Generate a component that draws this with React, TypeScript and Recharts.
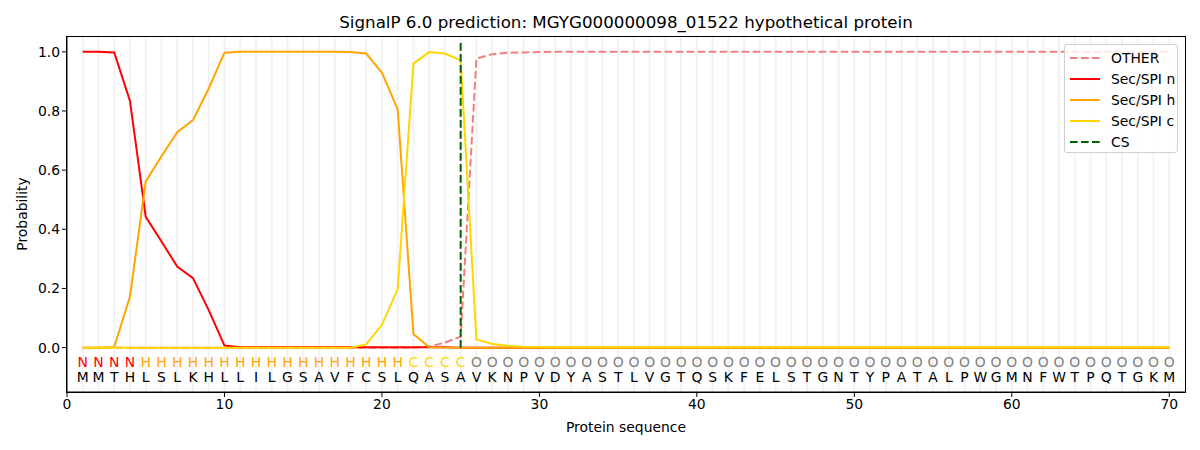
import React from 'react';
import {
  ComposedChart,
  Line,
  Scatter,
  XAxis,
  YAxis,
  ReferenceLine,
} from 'recharts';

const TITLE = 'SignalP 6.0 prediction: MGYG000000098_01522 hypothetical protein';

const sequence = 'MMTHLSLKHLLILGSAVFCSLQASAVKNPVDYASTLVGTQSKFELSTGNTYPATALPWGMNFWTPQTGKM'.split('');
const regions = 'NNNNHHHHHHHHHHHHHHHHHCCCCOOOOOOOOOOOOOOOOOOOOOOOOOOOOOOOOOOOOOOOOOOOOO'.split('');

const otherProb = [
  0, 0, 0, 0, 0, 0, 0, 0, 0, 0,
  0, 0, 0, 0, 0, 0, 0, 0, 0, 0,
  0, 0, 0.003, 0.017, 0.037, 0.977, 0.992, 0.997, 0.998, 0.999,
  1, 1, 1, 1, 1, 1, 1, 1, 1, 1,
  1, 1, 1, 1, 1, 1, 1, 1, 1, 1,
  1, 1, 1, 1, 1, 1, 1, 1, 1, 1,
  1, 1, 1, 1, 1, 1, 1, 1, 1, 1,
];
const secN = [
  1, 1, 0.998, 0.834, 0.442, 0.359, 0.274, 0.235, 0.127, 0.007,
  0.001, 0.001, 0.001, 0.001, 0.001, 0.001, 0.001, 0.001, 0.001, 0.001,
  0.001, 0.001, 0.001, 0.001, 0, 0, 0, 0, 0, 0,
  0, 0, 0, 0, 0, 0, 0, 0, 0, 0,
  0, 0, 0, 0, 0, 0, 0, 0, 0, 0,
  0, 0, 0, 0, 0, 0, 0, 0, 0, 0,
  0, 0, 0, 0, 0, 0, 0, 0, 0, 0,
];
const secH = [
  0, 0, 0.002, 0.173, 0.562, 0.647, 0.728, 0.769, 0.876, 0.997,
  1, 1, 1, 1, 1, 1, 1, 0.999, 0.994, 0.93,
  0.805, 0.046, 0.001, 0, 0, 0, 0, 0, 0, 0,
  0, 0, 0, 0, 0, 0, 0, 0, 0, 0,
  0, 0, 0, 0, 0, 0, 0, 0, 0, 0,
  0, 0, 0, 0, 0, 0, 0, 0, 0, 0,
  0, 0, 0, 0, 0, 0, 0, 0, 0, 0,
];
const secC = [
  0, 0, 0, 0, 0, 0, 0, 0, 0, 0,
  0, 0, 0, 0, 0, 0, 0, 0, 0.011, 0.077,
  0.198, 0.96, 0.999, 0.994, 0.971, 0.028, 0.012, 0.006, 0.003, 0.002,
  0.001, 0.001, 0.001, 0.001, 0.001, 0.001, 0.001, 0.001, 0.001, 0.001,
  0.001, 0.001, 0.001, 0.001, 0.001, 0.001, 0.001, 0.001, 0.001, 0.001,
  0.001, 0.001, 0.001, 0.001, 0.001, 0.001, 0.001, 0.001, 0.001, 0.001,
  0.001, 0.001, 0.001, 0.001, 0.001, 0.001, 0.001, 0.001, 0.001, 0.001,
];
const cleavageSite = 25;

const xTicks = [0, 10, 20, 30, 40, 50, 60, 70];
const yTicks = [0, 0.2, 0.4, 0.6, 0.8, 1.0];

const REGION_COLORS: Record<string, string> = {
  N: '#ff0000',
  H: '#ffa500',
  C: '#ffd700',
  O: '#808080',
};

const legendItems = [
  { label: 'OTHER', color: '#f08080', dashed: true },
  { label: 'Sec/SPI n', color: '#ff0000', dashed: false },
  { label: 'Sec/SPI h', color: '#ffa500', dashed: false },
  { label: 'Sec/SPI c', color: '#ffd700', dashed: false },
  { label: 'CS', color: '#006400', dashed: true },
];

const FONT = '"DejaVu Sans", sans-serif';

const rows = sequence.map((aa, i) => ({
  pos: i + 1,
  other: otherProb[i],
  n: secN[i],
  h: secH[i],
  c: secC[i],
}));
const regionRows = regions.map((r, i) => ({ pos: i + 1, y: -0.047, text: r }));
const residueRows = sequence.map((aa, i) => ({ pos: i + 1, y: -0.1, text: aa }));

const LetterShape = (color?: string) => (props: any) => {
  const { cx, cy, payload } = props;
  return (
    <text
      x={cx}
      y={cy}
      textAnchor="middle"
      dominantBaseline="central"
      fontSize={13.9}
      fontFamily={FONT}
      fill={color ?? REGION_COLORS[payload.text]}
    >
      {payload.text}
    </text>
  );
};

const LegendBox = () => (
  <div
    style={{
      position: 'absolute',
      left: 1064,
      top: 44,
      width: 114,
      height: 109,
      boxSizing: 'border-box',
      background: 'rgba(255,255,255,0.8)',
      border: '1px solid #d0d0d0',
      borderRadius: 3,
      padding: '2px 0 0 4px',
      fontFamily: FONT,
      fontSize: 13.9,
    }}
  >
    {legendItems.map((it) => (
      <div key={it.label} style={{ display: 'flex', alignItems: 'center', height: 21 }}>
        <svg width={42} height={10}>
          <line
            x1={1}
            x2={31}
            y1={5}
            y2={5}
            stroke={it.color}
            strokeWidth={2}
            strokeDasharray={it.dashed ? '7.7 3.3' : undefined}
          />
        </svg>
        <span style={{ color: '#000' }}>{it.label}</span>
      </div>
    ))}
  </div>
);

export default function App() {
  return (
    <div style={{ position: 'absolute', left: 0, top: 0, width: 1200, height: 450, background: '#fff' }}>
      <div
        style={{
          position: 'absolute',
          top: 12,
          left: 67,
          width: 1118,
          textAlign: 'center',
          fontFamily: FONT,
          fontSize: 16.7,
        }}
      >
        {TITLE}
      </div>
      <div
        style={{
          position: 'absolute',
          left: 67,
          top: 419,
          width: 1118,
          textAlign: 'center',
          fontFamily: FONT,
          fontSize: 13.9,
        }}
      >
        Protein sequence
      </div>
      <div
        style={{
          position: 'absolute',
          left: 22,
          top: 214,
          transform: 'translate(-50%, -50%) rotate(-90deg)',
          fontFamily: FONT,
          fontSize: 13.9,
          whiteSpace: 'nowrap',
        }}
      >
        Probability
      </div>
      <ComposedChart
        width={1200}
        height={450}
        data={rows}
        margin={{ top: 37, right: 15, left: 0, bottom: 0 }}
      >
        <XAxis
          dataKey="pos"
          type="number"
          domain={[0, 71]}
          ticks={xTicks}
          height={58}
          tickSize={5}
          stroke="#000"
          tick={{ fill: '#000', fontSize: 13.9, fontFamily: FONT }}
          allowDataOverflow
        />
        <YAxis
          type="number"
          domain={[-0.15, 1.05]}
          ticks={yTicks}
          width={67}
          tickSize={5}
          stroke="#000"
          tickFormatter={(v: number) => v.toFixed(1)}
          tick={{ fill: '#000', fontSize: 13.9, fontFamily: FONT }}
          allowDataOverflow
        />
        {rows.map((r) => (
          <ReferenceLine key={`g${r.pos}`} x={r.pos} stroke="#f2f2f2" strokeWidth={2} />
        ))}
        <Line dataKey="other" stroke="#f08080" strokeWidth={2} strokeDasharray="7.7 3.3" dot={false} isAnimationActive={false} />
        <Line dataKey="n" stroke="#ff0000" strokeWidth={2} dot={false} isAnimationActive={false} />
        <Line dataKey="h" stroke="#ffa500" strokeWidth={2} dot={false} isAnimationActive={false} />
        <Line dataKey="c" stroke="#ffd700" strokeWidth={2} dot={false} isAnimationActive={false} />
        <ReferenceLine
          segment={[{ x: cleavageSite, y: 0 }, { x: cleavageSite, y: 1.04 }]}
          stroke="#006400"
          strokeWidth={2}
          strokeDasharray="7.7 3.3"
        />
        <Scatter data={regionRows} dataKey="y" shape={LetterShape()} isAnimationActive={false} />
        <Scatter data={residueRows} dataKey="y" shape={LetterShape('#000')} isAnimationActive={false} />
      </ComposedChart>
      <div
        style={{
          position: 'absolute',
          left: 66,
          top: 36,
          width: 1120,
          height: 357,
          boxSizing: 'border-box',
          border: '1px solid #000',
          pointerEvents: 'none',
        }}
      />
      <LegendBox />
    </div>
  );
}
